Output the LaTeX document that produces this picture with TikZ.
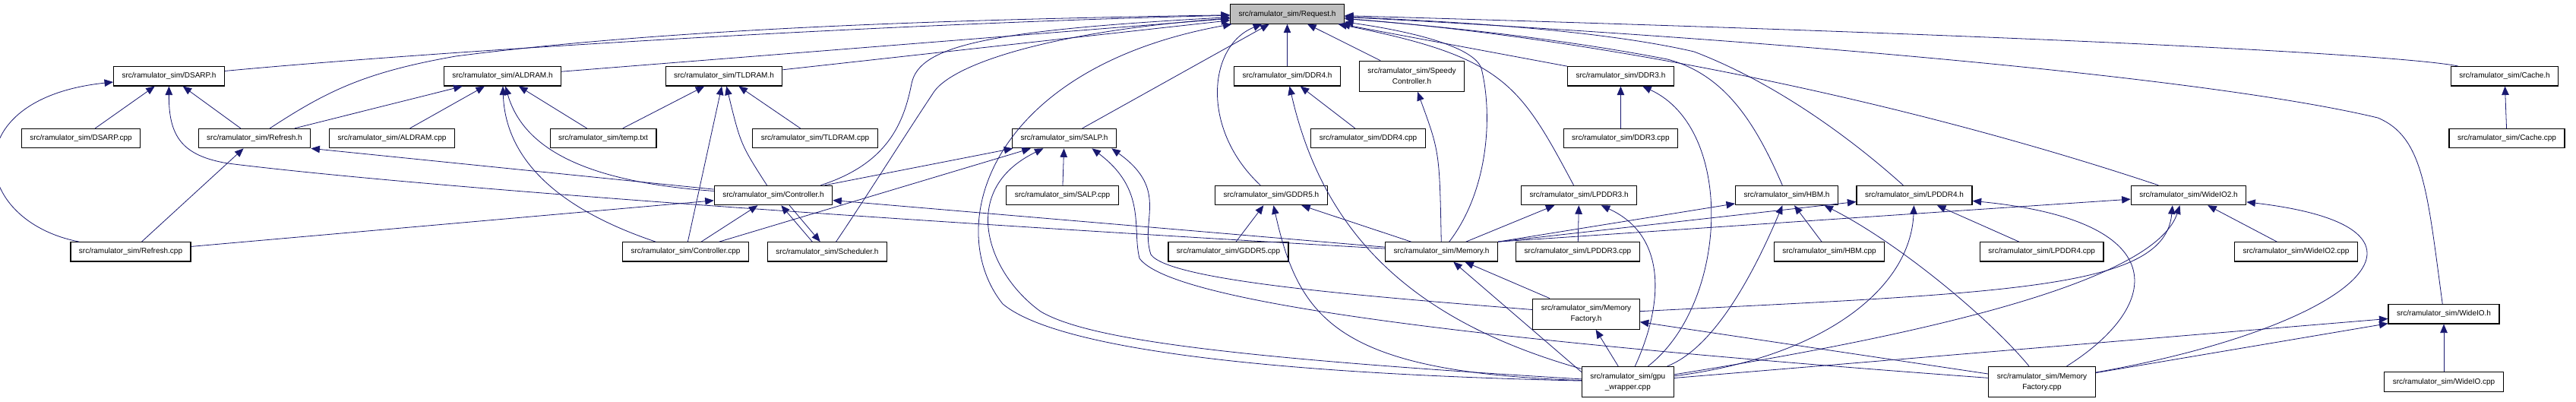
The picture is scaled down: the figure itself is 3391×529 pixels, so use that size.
\documentclass[tikz,border=0pt]{standalone}
\usepackage{fontspec}
\setmainfont{Liberation Sans}
\usepackage{xcolor}
\usepackage{tikz}
\usetikzlibrary{arrows.meta}

\definecolor{edgeblue}{HTML}{191970}
\definecolor{reqgray}{HTML}{BFBFBF}

\begin{document}
\begin{tikzpicture}[x=1pt, y=-1pt,
    every node/.style={font=\fontsize{10}{14}\selectfont},
    file/.style={draw=black, line width=1.2pt, fill=white, inner xsep=11pt, inner ysep=3pt, minimum height=25.3pt},
    twoline/.style={file, align=center, minimum height=40pt},
    inc/.style={draw=edgeblue, line width=0.8pt, -{Triangle[length=11.5pt,width=9.5pt]}}]
    \useasboundingbox (0,0) rectangle (3391,529);

    % The included header
    \node[file, fill=reqgray] (request) at (1694.5,18.5) {src/ramulator\_sim/Request.h};

    % First row of headers
    \node[file] (dsarph) at (222.5,100.3) {src/ramulator\_sim/DSARP.h};
    \node[file] (aldramh) at (661.5,100.3) {src/ramulator\_sim/ALDRAM.h};
    \node[file] (tldramh) at (953,100.3) {src/ramulator\_sim/TLDRAM.h};
    \node[file] (ddrfourh) at (1694.5,100.3) {src/ramulator\_sim/DDR4.h};
    \node[twoline] (speedyh) at (1858.5,100.3) {src/ramulator\_sim/Speedy\\Controller.h};
    \node[file] (ddrthreeh) at (2133.4,100.3) {src/ramulator\_sim/DDR3.h};
    \node[file] (cacheh) at (3297,100.3) {src/ramulator\_sim/Cache.h};

    % Second row
    \node[file] (dsarpcpp) at (106.5,182.1) {src/ramulator\_sim/DSARP.cpp};
    \node[file] (refreshh) at (335,182.1) {src/ramulator\_sim/Refresh.h};
    \node[file] (aldramcpp) at (516,182.1) {src/ramulator\_sim/ALDRAM.cpp};
    \node[file] (temptxt) at (794,182.1) {src/ramulator\_sim/temp.txt};
    \node[file] (tldramcpp) at (1073,182.1) {src/ramulator\_sim/TLDRAM.cpp};
    \node[file] (salph) at (1401,182.1) {src/ramulator\_sim/SALP.h};
    \node[file] (ddrfourcpp) at (1801,182.1) {src/ramulator\_sim/DDR4.cpp};
    \node[file] (ddrthreecpp) at (2133.4,182.1) {src/ramulator\_sim/DDR3.cpp};
    \node[file] (cachecpp) at (3300,182.1) {src/ramulator\_sim/Cache.cpp};

    % Third row
    \node[file] (controllerh) at (1018,257) {src/ramulator\_sim/Controller.h};
    \node[file] (salpcpp) at (1398.5,257) {src/ramulator\_sim/SALP.cpp};
    \node[file] (gddrfiveh) at (1673.4,257) {src/ramulator\_sim/GDDR5.h};
    \node[file] (lpddrthreeh) at (2078.6,257) {src/ramulator\_sim/LPDDR3.h};
    \node[file] (hbmh) at (2352,257) {src/ramulator\_sim/HBM.h};
    \node[file] (lpddrfourh) at (2520,257) {src/ramulator\_sim/LPDDR4.h};
    \node[file] (wideiotwoh) at (2881,257) {src/ramulator\_sim/WideIO2.h};

    % Fourth row
    \node[file] (refreshcpp) at (172,331.4) {src/ramulator\_sim/Refresh.cpp};
    \node[file] (controllercpp) at (902.5,331.4) {src/ramulator\_sim/Controller.cpp};
    \node[file] (schedulerh) at (1089,331.4) {src/ramulator\_sim/Scheduler.h};
    \node[file] (gddrfivecpp) at (1617,331.4) {src/ramulator\_sim/GDDR5.cpp};
    \node[file] (memoryh) at (1897.5,331.4) {src/ramulator\_sim/Memory.h};
    \node[file] (lpddrthreecpp) at (2077,331.4) {src/ramulator\_sim/LPDDR3.cpp};
    \node[file] (hbmcpp) at (2408,331.4) {src/ramulator\_sim/HBM.cpp};
    \node[file] (lpddrfourcpp) at (2687.7,331.4) {src/ramulator\_sim/LPDDR4.cpp};
    \node[file] (wideiotwocpp) at (3022.5,331.4) {src/ramulator\_sim/WideIO2.cpp};

    % Bottom rows
    \node[twoline] (memfactoryh) at (2088,413.2) {src/ramulator\_sim/Memory\\Factory.h};
    \node[file] (wideioh) at (3217,413.3) {src/ramulator\_sim/WideIO.h};
    \node[twoline] (gpuwrapper) at (2142.8,502.5) {src/ramulator\_sim/gpu\\\_wrapper.cpp};
    \node[twoline] (memfactorycpp) at (2688,502.5) {src/ramulator\_sim/Memory\\Factory.cpp};
    \node[file] (wideiocpp) at (3217,502.5) {src/ramulator\_sim/WideIO.cpp};

    % Includers of Request.h
    \draw[inc] (dsarph) .. controls (600,65) and (1200,30) .. (request);
    \draw[inc] (refreshh) .. controls (430,120) and (480,95) .. (600,74) .. controls (900,35) and (1300,25) .. (request);
    \draw[inc] (aldramh) -- (request);
    \draw[inc] (tldramh) -- (request);
    \draw[inc] (controllerh.12) .. controls (1170,215) and (1190,160) .. (1200,110) .. controls (1210,60) and (1300,40) .. (request);
    \draw[inc] (schedulerh.49) .. controls (1140,260) and (1190,180) .. (1230,120) .. controls (1260,80) and (1400,40) .. (request);
    \draw[inc] (salph) -- (request);
    \draw[inc] (gddrfiveh) .. controls (1580,170) and (1590,60) .. (request);
    \draw[inc] (ddrfourh) -- (request);
    \draw[inc] (gpuwrapper) .. controls (1600,490) and (1380,450) .. (1320,400) .. controls (1240,300) and (1300,90) .. (request);
    \draw[inc] (speedyh) -- (request);
    \draw[inc] (memoryh) .. controls (1960,250) and (1965,150) .. (1950,90) .. controls (1940,60) and (1850,40) .. (request);
    \draw[inc] (lpddrthreeh) .. controls (2000,110) and (1980,75) .. (request);
    \draw[inc] (ddrthreeh) -- (request);
    \draw[inc] (hbmh) .. controls (2310,160) and (2270,98) .. (2195,78) .. controls (2050,50) and (1900,35) .. (request);
    \draw[inc] (lpddrfourh) .. controls (2440,185) and (2340,110) .. (2230,68) .. controls (2100,38) and (1900,28) .. (request);
    \draw[inc] (wideiotwoh) .. controls (2500,130) and (2100,50) .. (request);
    \draw[inc] (wideioh) .. controls (3195,250) and (3190,180) .. (3130,155) .. controls (2900,100) and (2300,50) .. (request);
    \draw[inc] (cacheh) .. controls (3180,75) and (2800,50) .. (request);

    % DSARP.h and Refresh.h
    \draw[inc] (dsarpcpp) -- (dsarph);
    \draw[inc] (refreshh) -- (dsarph);
    \draw[inc] (refreshcpp) .. controls (-40,290) and (-60,130) .. (dsarph);
    \draw[inc] (memoryh) .. controls (1000,280) and (500,240) .. (300,215) .. controls (240,205) and (222,180) .. (dsarph);
    \draw[inc] (refreshcpp) -- (refreshh);
    \draw[inc] (controllerh) -- (refreshh.south east);

    % ALDRAM.h and TLDRAM.h
    \draw[inc] (refreshh) -- (aldramh);
    \draw[inc] (aldramcpp) -- (aldramh);
    \draw[inc] (temptxt) -- (aldramh);
    \draw[inc] (controllerh) .. controls (780,240) and (690,200) .. (aldramh);
    \draw[inc] (controllercpp) .. controls (720,270) and (665,200) .. (aldramh);
    \draw[inc] (temptxt) -- (tldramh);
    \draw[inc] (tldramcpp) -- (tldramh);
    \draw[inc] (controllerh) .. controls (975,190) .. (tldramh);
    \draw[inc] (controllercpp) -- (tldramh);

    % Controller.h and Scheduler.h
    \draw[inc] (refreshcpp) -- (controllerh);
    \draw[inc] (controllercpp) -- (controllerh);
    \draw[inc] (schedulerh.146) -- (controllerh.308);
    \draw[inc] (memoryh) -- (controllerh);
    \draw[inc] (controllerh.328) -- (schedulerh.125);

    % SALP.h
    \draw[inc] (controllerh) -- (salph);
    \draw[inc] (controllercpp) -- (salph);
    \draw[inc] (salpcpp) -- (salph);
    \draw[inc] (gpuwrapper) .. controls (1600,470) and (1430,445) .. (1370,410) .. controls (1300,360) and (1260,250) .. (salph);
    \draw[inc] (memfactoryh) .. controls (1800,390) and (1540,370) .. (1515,335) .. controls (1500,290) and (1540,250) .. (salph.348);
    \draw[inc] (memfactorycpp) .. controls (1900,445) and (1540,395) .. (1500,340) .. controls (1490,300) and (1510,250) .. (salph.340);

    % GDDR5.h, DDR4.h, Speedy, DDR3.h
    \draw[inc] (gddrfivecpp) -- (gddrfiveh);
    \draw[inc] (memoryh) -- (gddrfiveh);
    \draw[inc] (gpuwrapper) .. controls (1760,490) and (1710,420) .. (gddrfiveh);
    \draw[inc] (ddrfourcpp) -- (ddrfourh);
    \draw[inc] (gpuwrapper) .. controls (1850,420) and (1740,300) .. (ddrfourh);
    \draw[inc] (memoryh) .. controls (1895,200) .. (speedyh);
    \draw[inc] (ddrthreecpp) -- (ddrthreeh);
    \draw[inc] (gpuwrapper) .. controls (2275,400) and (2285,170) .. (ddrthreeh);

    % LPDDR3.h, Memory.h, Memory Factory.h
    \draw[inc] (memoryh) -- (lpddrthreeh);
    \draw[inc] (lpddrthreecpp) -- (lpddrthreeh);
    \draw[inc] (gpuwrapper) .. controls (2190,400) and (2195,310) .. (lpddrthreeh);
    \draw[inc] (gpuwrapper.168) -- (memoryh.320);
    \draw[inc] (memfactoryh) -- (memoryh);
    \draw[inc] (gpuwrapper) -- (memfactoryh);
    \draw[inc] (memfactorycpp) -- (memfactoryh);

    % HBM.h and LPDDR4.h
    \draw[inc] (memoryh.north east) -- (hbmh);
    \draw[inc] (hbmcpp) -- (hbmh);
    \draw[inc] (gpuwrapper) .. controls (2250,460) and (2300,380) .. (hbmh);
    \draw[inc] (memfactorycpp) .. controls (2620,420) and (2500,320) .. (hbmh.345);
    \draw[inc] (memoryh.north east) -- (lpddrfourh);
    \draw[inc] (lpddrfourcpp) -- (lpddrfourh);
    \draw[inc] (gpuwrapper) .. controls (2400,470) and (2515,380) .. (lpddrfourh);
    \draw[inc] (memfactorycpp) .. controls (2850,400) and (2860,290) .. (lpddrfourh);

    % WideIO2.h, WideIO.h, Cache.h
    \draw[inc] (memoryh.north east) -- (wideiotwoh);
    \draw[inc] (wideiotwocpp) -- (wideiotwoh);
    \draw[inc] (memfactoryh) .. controls (2650,385) and (2850,380) .. (wideiotwoh.212);
    \draw[inc] (gpuwrapper) .. controls (2600,430) and (2840,360) .. (wideiotwoh.229);
    \draw[inc] (memfactorycpp) .. controls (3100,430) and (3250,300) .. (wideiotwoh);
    \draw[inc] (wideiocpp) -- (wideioh);
    \draw[inc] (gpuwrapper) -- (wideioh);
    \draw[inc] (memfactorycpp) -- (wideioh);
    \draw[inc] (cachecpp) -- (cacheh);
\end{tikzpicture}
\end{document}
